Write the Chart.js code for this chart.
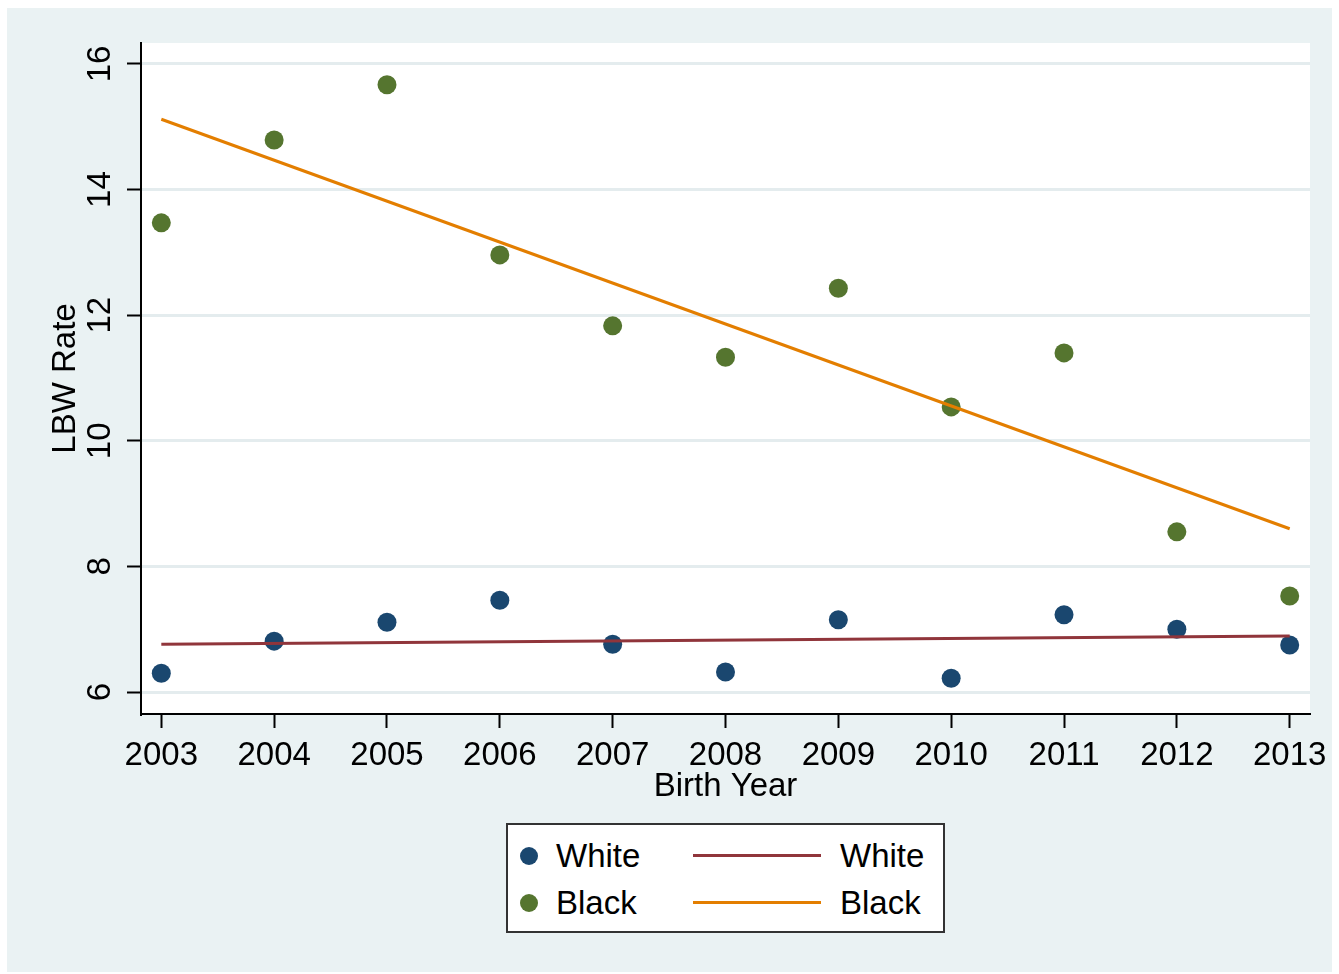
<!DOCTYPE html>
<html>
<head>
<meta charset="utf-8">
<script src="https://cdn.jsdelivr.net/npm/chart.js@4.4.1/dist/chart.umd.min.js"></script>
<style>
  body { margin: 0; background: #fff; font-family: "Liberation Sans", Arial, sans-serif; }
  #frame { position: absolute; left: 7px; top: 8px; width: 1325px; height: 964px; background: #EAF2F3; }
  #legend { position: absolute; left: 499px; top: 815px; width: 435px; height: 106px;
            background: #fff; border: 2px solid #333; }
  .item { position: absolute; font-size: 33px; color: #000; line-height: 40px; }
  .dot { position: absolute; width: 18px; height: 18px; border-radius: 50%; }
  .bar { position: absolute; width: 128px; height: 3px; }
</style>
</head>
<body>
<div id="frame">
  <canvas id="chart" width="1325" height="964"></canvas>
  <div id="legend"></div>
</div>
<script>
// birth years and LBW rates
var years = [2003, 2004, 2005, 2006, 2007, 2008, 2009, 2010, 2011, 2012, 2013];
var whiteRate = [6.30, 6.81, 7.11, 7.46, 6.76, 6.32, 7.15, 6.22, 7.23, 7.00, 6.75];
var blackRate = [13.47, 14.79, 15.67, 12.96, 11.83, 11.33, 12.43, 10.54, 11.40, 8.55, 7.53];

// fitted lines (end points)
var fitYears = [2003, 2013];
var whiteFit = [6.76, 6.89];
var blackFit = [15.12, 8.60];

var navy = '#1A476F', maroon = '#90353B', green = '#55752F', orange = '#E37E00';

function pts(xs, ys) {
	var out = [];
	for (var i = 0; i < xs.length; i++) out.push({x: xs[i], y: ys[i]});
	return out;
}

var datasets = [
	{ label: 'White', type: 'scatter', data: pts(years, whiteRate), backgroundColor: navy,
	  borderWidth: 0, pointRadius: 9.5, order: 2 },
	{ label: 'Black', type: 'scatter', data: pts(years, blackRate), backgroundColor: green,
	  borderWidth: 0, pointRadius: 9.5, order: 2 },
	{ label: 'White', type: 'line', data: pts(fitYears, whiteFit), borderColor: maroon,
	  borderWidth: 3, pointRadius: 0, fill: false, order: 1 },
	{ label: 'Black', type: 'line', data: pts(fitYears, blackFit), borderColor: orange,
	  borderWidth: 3, pointRadius: 0, fill: false, order: 1 }
];

// white plot region
var plotBg = {
	id: 'plotBg',
	beforeDraw: function(chart) {
		var a = chart.chartArea, c = chart.ctx;
		c.save();
		c.fillStyle = '#fff';
		c.fillRect(a.left, a.top, a.right - a.left, a.bottom - a.top);
		c.restore();
	}
};

var font = { family: '"Liberation Sans", Arial, sans-serif', size: 33 };

var ctx = document.getElementById('chart').getContext('2d');
var chart = new Chart(ctx, {
	type: 'scatter',
	data: { datasets: datasets },
	plugins: [plotBg],
	options: {
		responsive: false,
		animation: false,
		devicePixelRatio: 1,
		layout: { padding: { left: 35, top: 35, right: 22, bottom: 161 } },
		plugins: { legend: { display: false }, tooltip: { enabled: false } },
		scales: {
			x: {
				type: 'linear', min: 2002.82, max: 2013.18,
				afterFit: function(s) { s.height = 97; s.paddingRight = 0; s.paddingLeft = 0; },
				border: { display: true, color: '#000', width: 2 },
				grid: { drawOnChartArea: false, drawTicks: true, tickLength: 14, tickColor: '#000', tickWidth: 2 },
				ticks: { stepSize: 1, includeBounds: false, color: '#000', font: font, padding: 8,
				         maxRotation: 0, autoSkip: false,
				         callback: function(v) { return String(v); } },
				title: { display: true, text: 'Birth Year', color: '#000', font: font, padding: 4 }
			},
			y: {
				type: 'linear', min: 5.65, max: 16.334,
				afterFit: function(s) { s.width = 99; },
				border: { display: true, color: '#000', width: 2 },
				grid: { color: '#E4ECEE', lineWidth: 3, tickLength: 14, tickColor: '#000', tickWidth: 2 },
				ticks: { stepSize: 2, includeBounds: false, color: '#000', font: font, padding: 8,
				         minRotation: 90, maxRotation: 90, crossAlign: 'center' },
				title: { display: true, text: 'LBW Rate', color: '#000', font: font, padding: 4 }
			}
		}
	}
});

// legend: markers in first column, fitted lines in second
var leg = document.getElementById('legend');
var rows = [[datasets[0], datasets[2]], [datasets[1], datasets[3]]];
for (var r = 0; r < rows.length; r++) {
	var cy = 31 + r * 47;
	var d = document.createElement('div');
	d.className = 'dot';
	d.style.left = '12px';
	d.style.top = (cy - 9) + 'px';
	d.style.background = rows[r][0].backgroundColor;
	leg.appendChild(d);
	var t = document.createElement('div');
	t.className = 'item';
	t.style.left = '48px';
	t.style.top = (cy - 20) + 'px';
	t.textContent = rows[r][0].label;
	leg.appendChild(t);
	var b = document.createElement('div');
	b.className = 'bar';
	b.style.left = '185px';
	b.style.top = (cy - 2) + 'px';
	b.style.background = rows[r][1].borderColor;
	leg.appendChild(b);
	var t2 = document.createElement('div');
	t2.className = 'item';
	t2.style.left = '332px';
	t2.style.top = (cy - 20) + 'px';
	t2.textContent = rows[r][1].label;
	leg.appendChild(t2);
}
</script>
</body>
</html>
